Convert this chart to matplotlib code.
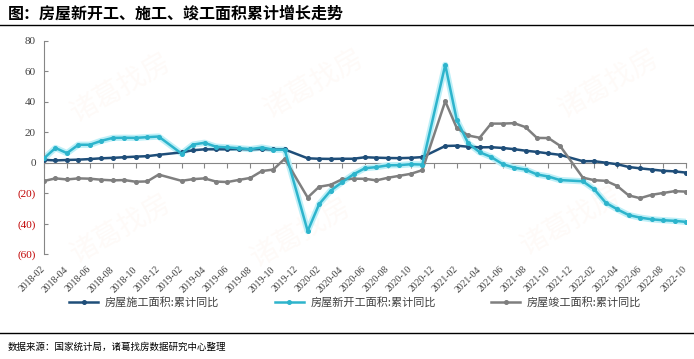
import matplotlib
matplotlib.use("Agg")
import matplotlib.pyplot as plt
import numpy as np
from matplotlib.lines import Line2D

plt.rcParams['font.family'] = ['Noto Sans CJK SC', 'DejaVu Sans']

# 57 monthly slots, 2018-02 .. 2022-10; None = empty January slot
tick_labels = ['2018-02', '2018-04', '2018-06', '2018-08', '2018-10', '2018-12',
               '2019-02', '2019-04', '2019-06', '2019-08', '2019-10', '2019-12',
               '2020-02', '2020-04', '2020-06', '2020-08', '2020-10', '2020-12',
               '2021-02', '2021-04', '2021-06', '2021-08', '2021-10', '2021-12',
               '2022-02', '2022-04', '2022-06', '2022-08', '2022-10']

construction = [1.9, 1.5, 1.8, 2.0, 2.4, 2.9, 3.2, 3.6, 4.0, 4.3, 5.2,
                None,
                6.8, 8.2, 8.8, 8.8, 8.8, 9.0, 8.8, 9.0, 8.7, 8.7,
                None,
                2.9, 2.6, 2.5, 2.6, 2.6, 3.6, 3.3, 3.1, 3.0, 3.2, 3.7,
                None,
                11.0, 11.2, 10.5, 10.1, 10.2, 9.7, 8.9, 7.9, 7.1, 6.1, 5.2,
                None,
                1.0, 1.0, 0.0, -1.0, -2.8, -3.7, -4.5, -5.3, -5.7, -6.5]

new_start = [2.9, 9.7, 6.3, 11.8, 11.8, 14.4, 16.3, 16.4, 16.3, 16.8, 17.2,
             None,
             6.0, 11.9, 13.1, 10.5, 10.1, 9.5, 8.9, 10.0, 8.6, 8.5,
             None,
             -44.9, -27.2, -18.4, -12.8, -7.6, -3.6, -2.9, -1.7, -1.6, -1.0, -1.2,
             None,
             64.3, 28.2, 12.8, 6.9, 3.8, -0.9, -3.2, -4.5, -7.7, -9.1, -11.4,
             None,
             -12.2, -17.5, -26.3, -30.6, -34.4, -36.1, -37.2, -37.8, -38.2, -38.9]

completed = [-12.0, -10.3, -11.0, -10.3, -10.5, -11.2, -11.6, -11.4, -12.5, -12.3, -7.8,
             None,
             -11.9, -10.8, -10.3, -12.4, -12.7, -11.3, -10.0, -5.5, -4.5, 2.6,
             None,
             -22.9, -15.8, -14.5, -10.9, -10.5, -10.6, -11.6, -9.9, -8.6, -7.3, -4.9,
             None,
             40.4, 22.9, 17.9, 16.4, 25.7, 25.7, 26.0, 23.4, 16.3, 16.2, 11.2,
             None,
             -9.8, -11.5, -11.9, -15.3, -21.5, -23.3, -21.1, -19.9, -18.7, -19.0]

names = ['房屋施工面积:累计同比', '房屋新开工面积:累计同比', '房屋竣工面积:累计同比']
colors = ['#1F4E79', '#2DB4CC', '#7F7F7F']

fig = plt.figure(figsize=(6.94, 3.59), dpi=100, facecolor='white')
ax = fig.add_axes([44/694, 105/359, 642/694, 213/359])

# faint watermark
for wx, wy in [(0.12, 0.78), (0.42, 0.80), (0.88, 0.80), (0.12, 0.12), (0.40, 0.10), (0.82, 0.16)]:
    ax.text(wx, wy, '诸葛找房', transform=ax.transAxes, fontsize=20, rotation=30,
            color='#F4B183', alpha=0.06, ha='center', va='center', zorder=0)


def draw(values, color, glow=False):
    x = np.array([i for i, v in enumerate(values) if v is not None])
    y = np.array([v for v in values if v is not None])
    if glow:
        ax.plot(x, y, color='#BDEFF7', lw=4.5, solid_capstyle='round', zorder=2)
    ax.plot(x, y, color=color, lw=1.8, marker='o', markersize=2.6, zorder=3)


draw(construction, colors[0])
draw(completed, colors[2])
draw(new_start, colors[1], glow=True)

ax.set_xlim(0, 56)
ax.set_ylim(-60, 80)

grey = '#868686'
for s in ['top', 'right', 'bottom']:
    ax.spines[s].set_visible(False)
ax.spines['left'].set_color(grey)
ax.spines['left'].set_linewidth(0.8)

yt = list(range(-60, 81, 20))
ax.set_yticks(yt)
ax.set_yticklabels(['(%d)' % -v if v < 0 else str(v) for v in yt],
                   fontfamily='Liberation Serif', fontsize=8)
for lab, v in zip(ax.get_yticklabels(), yt):
    lab.set_color('#C00000' if v < 0 else '#404040')
ax.tick_params(axis='y', direction='in', length=3, color=grey, pad=6)

xt = list(range(0, 57, 2))
ax.set_xticks(xt)
ax.set_xticklabels(tick_labels, rotation=45, ha='right', va='center',
                   rotation_mode='anchor', fontfamily='Liberation Serif',
                   fontsize=7, color='#404040')
ax.tick_params(axis='x', length=0, pad=10)

# zero line with tick marks
sec = ax.secondary_xaxis(60/140)
sec.set_xticks(xt)
sec.set_xticklabels([])
sec.tick_params(axis='x', direction='out', length=3.5, color=grey)
sec.spines['bottom'].set_color(grey)
sec.spines['bottom'].set_linewidth(0.8)

handles = [Line2D([], [], color=c, lw=1.8, marker='o', markersize=2.6) for c in colors]
fig.legend(handles, names, loc='center', bbox_to_anchor=(0.512, 0.158), ncol=3,
           frameon=False, fontsize=8, handlelength=2.6, columnspacing=5.0,
           handletextpad=0.6, labelcolor='#404040')

fig.text(8/694, 1 - 14/359, '图：房屋新开工、施工、竣工面积累计增长走势',
         fontsize=11.5, fontweight='bold', va='center', ha='left')
fig.add_artist(Line2D([0, 1], [1 - 25/359] * 2, color='black', lw=1.0,
                      transform=fig.transFigure))
fig.add_artist(Line2D([0, 1], [1 - 333/359] * 2, color='black', lw=1.0,
                      transform=fig.transFigure))
fig.text(8/694, 1 - 347/359, '数据来源：国家统计局，诸葛找房数据研究中心整理',
         fontsize=6.8, va='center', ha='left')

fig.savefig('out.png', dpi=100, facecolor='white')
